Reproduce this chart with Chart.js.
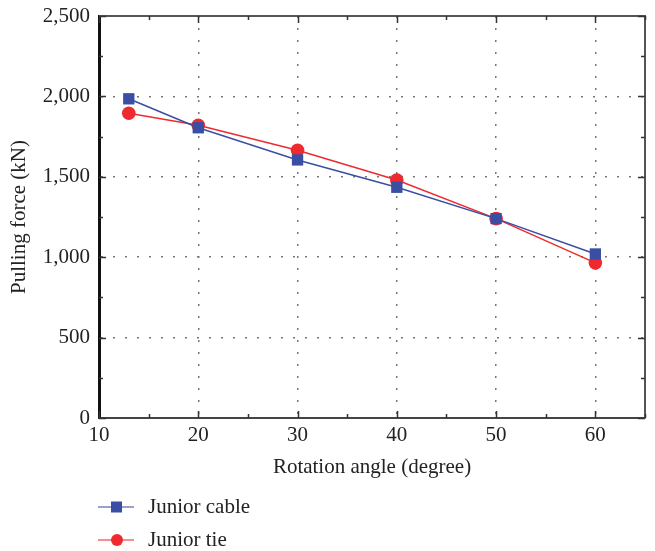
<!DOCTYPE html>
<html>
<head>
<meta charset="utf-8">
<script src="https://cdn.jsdelivr.net/npm/chart.js@4"></script>
<style>
  html, body { margin: 0; padding: 0; background: #fff; }
  #wrap { width: 655px; height: 551px; }
</style>
</head>
<body>
<div id="wrap"><canvas id="chart" width="655" height="551"></canvas></div>
<script>
// --- Data ---
const angles = [13, 20, 30, 40, 50, 60];
const juniorCable = [1985, 1805, 1605, 1435, 1240, 1020];
const juniorTie = [1895, 1820, 1665, 1480, 1240, 965];
const seriesNames = ['Junior cable', 'Junior tie'];

const BLUE = '#3a4ea3';
const RED = '#ee2a2e';
const FONT = '"Liberation Serif", "DejaVu Serif", serif';

// frame on top/right, inward ticks on all four sides, legend under the plot
const framePlugin = {
  id: 'frame',
  afterDraw(chart) {
    const { ctx, chartArea: a, scales: { x, y } } = chart;
    ctx.save();
    ctx.strokeStyle = '#555';
    ctx.lineWidth = 2;
    ctx.beginPath();
    ctx.moveTo(a.left, a.top);
    ctx.lineTo(a.right, a.top);
    ctx.lineTo(a.right, a.bottom);
    ctx.stroke();

    ctx.strokeStyle = '#333';
    ctx.lineWidth = 1.5;
    ctx.beginPath();
    for (let v = 10; v <= 65; v += 5) {
      const px = Math.round(x.getPixelForValue(v)) + 0.5;
      const len = v % 10 === 0 ? 7 : 4;
      ctx.moveTo(px, a.bottom);
      ctx.lineTo(px, a.bottom - len);
      ctx.moveTo(px, a.top);
      ctx.lineTo(px, a.top + len);
    }
    for (let v = 0; v <= 2500; v += 250) {
      const py = Math.round(y.getPixelForValue(v)) + 0.5;
      const len = v % 500 === 0 ? 7 : 4;
      ctx.moveTo(a.left, py);
      ctx.lineTo(a.left + len, py);
      ctx.moveTo(a.right, py);
      ctx.lineTo(a.right - len, py);
    }
    ctx.stroke();

    // legend
    const legendY = [507, 540];
    chart.data.datasets.forEach((ds, i) => {
      const yy = legendY[i];
      ctx.strokeStyle = ds.borderColor;
      ctx.globalAlpha = 0.7;
      ctx.lineWidth = 1.5;
      ctx.beginPath();
      ctx.moveTo(98, yy);
      ctx.lineTo(134, yy);
      ctx.stroke();
      ctx.globalAlpha = 1;
      ctx.fillStyle = ds.backgroundColor;
      if (ds.pointStyle === 'rect') {
        ctx.fillRect(111, yy - 5.5, 11, 11);
      } else {
        ctx.beginPath();
        ctx.arc(117, yy, 6, 0, Math.PI * 2);
        ctx.fill();
      }
      ctx.fillStyle = '#222';
      ctx.font = '21px ' + FONT;
      ctx.textBaseline = 'middle';
      ctx.textAlign = 'left';
      ctx.fillText(ds.label, 148, yy);
    });
    ctx.restore();
  }
};

const ctx = document.getElementById('chart').getContext('2d');

new Chart(ctx, {
  type: 'line',
  data: {
    datasets: [
      {
        label: seriesNames[0],
        data: angles.map((a, i) => ({ x: a, y: juniorCable[i] })),
        borderColor: BLUE,
        backgroundColor: BLUE,
        borderWidth: 1.5,
        pointStyle: 'rect',
        pointRadius: 8,
        pointBorderWidth: 0
      },
      {
        label: seriesNames[1],
        data: angles.map((a, i) => ({ x: a, y: juniorTie[i] })),
        borderColor: RED,
        backgroundColor: RED,
        borderWidth: 1.5,
        pointStyle: 'circle',
        pointRadius: 6.8,
        pointBorderWidth: 0
      }
    ]
  },
  options: {
    responsive: false,
    animation: false,
    layout: { padding: { top: 16, right: 10, bottom: 67, left: 0 } },
    plugins: {
      legend: { display: false },
      tooltip: { enabled: false }
    },
    scales: {
      x: {
        type: 'linear',
        min: 10,
        max: 65,
        afterFit: s => { s.height = 66; s.paddingLeft = 0; s.paddingRight = 0; },
        ticks: {
          stepSize: 10,
          includeBounds: false,
          padding: 5,
          color: '#222',
          font: { family: FONT, size: 21 }
        },
        grid: {
          color: '#777',
          lineWidth: 1.5,
          drawTicks: false
        },
        border: { color: '#444', width: 2, dash: [2, 10] },
        title: {
          display: true,
          text: 'Rotation angle (degree)',
          color: '#222',
          font: { family: FONT, size: 21 },
          padding: { top: 6 }
        }
      },
      y: {
        min: 0,
        max: 2500,
        afterFit: s => { s.width = 99; s.paddingTop = 0; s.paddingBottom = 0; },
        ticks: {
          stepSize: 500,
          padding: 9,
          color: '#222',
          font: { family: FONT, size: 21 },
          callback: v => v.toLocaleString('en-US')
        },
        grid: {
          color: '#777',
          lineWidth: 1.5,
          drawTicks: false
        },
        border: { color: '#111', width: 3, dash: [2, 10] },
        title: {
          display: true,
          text: 'Pulling force (kN)',
          color: '#222',
          font: { family: FONT, size: 21 },
          padding: { top: 7, bottom: 0 }
        }
      }
    }
  },
  plugins: [framePlugin]
});
</script>
</body>
</html>
